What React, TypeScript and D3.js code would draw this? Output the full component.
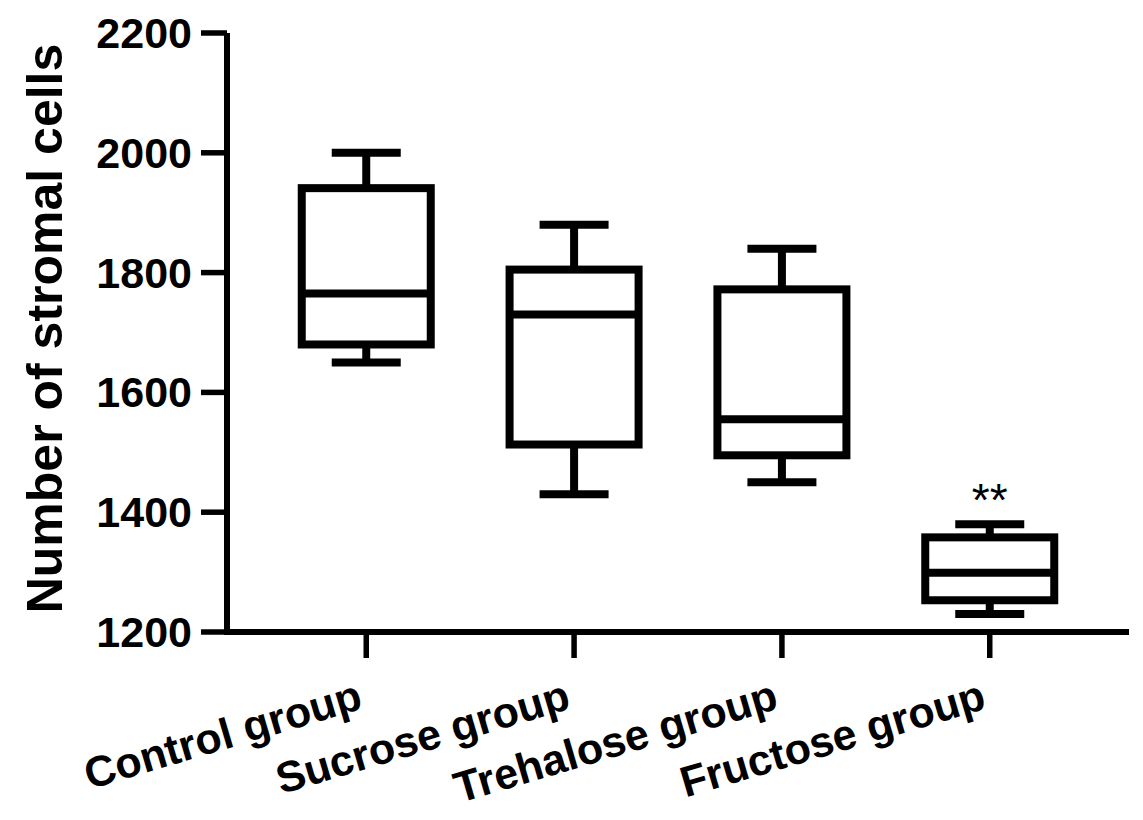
import React from "react";
import * as d3 from "d3";

const categories = ["Control group", "Sucrose group", "Trehalose group", "Fructose group"];
const mins = [1650, 1430, 1450, 1230];
const q1s = [1680, 1513, 1495, 1253];
const medians = [1765, 1730, 1555, 1299];
const q3s = [1941, 1805, 1772, 1358];
const maxs = [2000, 1880, 1840, 1380];
const yTicks = [1200, 1400, 1600, 1800, 2000, 2200];
const significance = ["", "", "", "**"];
const yLabel = "Number of stromal cells";

const W = 1143;
const H = 820;
const left = 227;
const right = 1129;
const top = 33;
const bottom = 632;
const FONT = "'Liberation Sans', Arial, Helvetica, sans-serif";

export default function App() {
  const x = d3.scalePoint<string>().domain(categories).range([left, right]).padding(0.67);
  const y = d3.scaleLinear().domain([1200, 2200]).range([bottom, top]);
  const boxW = 129;
  const capW = 69;
  const sw = 8;

  return (
    <div style={{ position: "fixed", left: 0, top: 0, background: "#fff" }}>
      <svg width={W} height={H} style={{ display: "block" }}>
        <rect width={W} height={H} fill="#fff" />
        {/* axes */}
        <line x1={left} x2={left} y1={top} y2={bottom + 3} stroke="#000" strokeWidth={6} />
        <line x1={left - 3} x2={right} y1={bottom} y2={bottom} stroke="#000" strokeWidth={6} />
        {yTicks.map((t) => (
          <g key={t}>
            <line x1={201} x2={left} y1={y(t)} y2={y(t)} stroke="#000" strokeWidth={5.5} />
            <text
              x={192}
              y={y(t)}
              dy="0.35em"
              textAnchor="end"
              fontFamily={FONT}
              fontWeight="bold"
              fontSize={43}
            >
              {t}
            </text>
          </g>
        ))}
        <text
          transform={`translate(62, ${(45 + 612) / 2}) rotate(-90)`}
          textAnchor="middle"
          fontFamily={FONT}
          fontWeight="bold"
          fontSize={50}
        >
          {yLabel}
        </text>
        {categories.map((c) => (
          <g key={c}>
            <line x1={x(c)!} x2={x(c)!} y1={bottom} y2={658} stroke="#000" strokeWidth={5.5} />
            <text
              transform={`translate(${x(c)! - 2}, 708) rotate(-16.5)`}
              textAnchor="end"
              fontFamily={FONT}
              fontWeight="bold"
              fontSize={43}
            >
              {c}
            </text>
          </g>
        ))}
        {/* boxes */}
        {categories.map((c, i) => {
          const cx = x(c)!;
          return (
            <g key={"b" + c} stroke="#000" strokeWidth={sw} fill="none">
              <line x1={cx} x2={cx} y1={y(maxs[i])} y2={y(q3s[i])} />
              <line x1={cx} x2={cx} y1={y(q1s[i])} y2={y(mins[i])} />
              <line x1={cx - capW / 2} x2={cx + capW / 2} y1={y(maxs[i])} y2={y(maxs[i])} />
              <line x1={cx - capW / 2} x2={cx + capW / 2} y1={y(mins[i])} y2={y(mins[i])} />
              <rect x={cx - boxW / 2} y={y(q3s[i])} width={boxW} height={y(q1s[i]) - y(q3s[i])} />
              <line x1={cx - boxW / 2} x2={cx + boxW / 2} y1={y(medians[i])} y2={y(medians[i])} />
            </g>
          );
        })}
        {categories.map((c, i) =>
          significance[i] ? (
            <text
              key={"s" + c}
              x={x(c)!}
              y={y(maxs[i]) - 8}
              textAnchor="middle"
              fontFamily={FONT}
              fontSize={46}
            >
              {significance[i]}
            </text>
          ) : null
        )}
      </svg>
    </div>
  );
}
